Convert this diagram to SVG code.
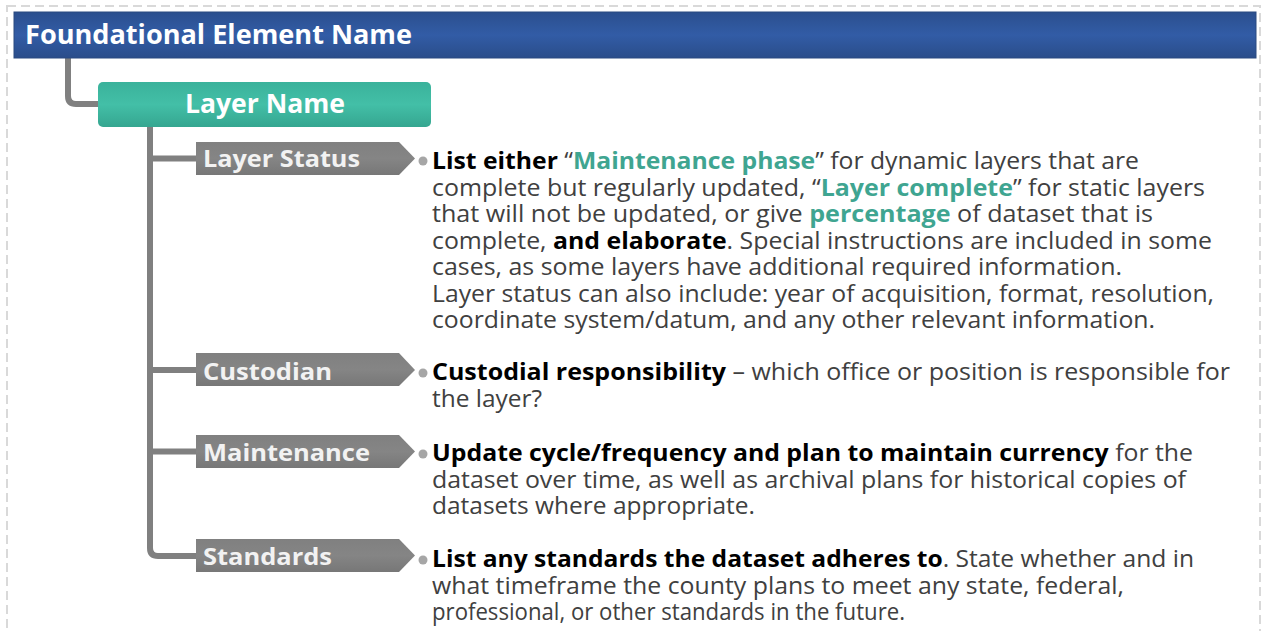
<svg xmlns="http://www.w3.org/2000/svg" width="1262" height="631" viewBox="0 0 1262 631">
<style>
.frame{fill:none;stroke:#d9d9d9;stroke-width:2;stroke-dasharray:9 5}
.conn{fill:none;stroke:#808080;stroke-width:6;stroke-linejoin:round}
.chev{fill:url(#gGray)}
.lbl{font-family:"Open Sans","Noto Sans",sans-serif;font-weight:700;font-size:24px;fill:#f2f2f2}
.hdr{font-family:"Open Sans","Noto Sans",sans-serif;font-weight:700;font-size:26px;fill:#ffffff}
.body{font-family:"Open Sans","Noto Sans",sans-serif;font-size:23px;fill:#404040}
.b{font-weight:700;fill:#000000}
.t{font-weight:700;fill:#3fa591}
.dot{fill:#a6a6a6}
</style>
<defs>
<linearGradient id="gBlue" x1="0" y1="0" x2="0" y2="1">
<stop offset="0" stop-color="#2b4f8e"/>
<stop offset="0.5" stop-color="#325ca6"/>
<stop offset="1" stop-color="#2a4d8a"/>
</linearGradient>
<linearGradient id="gTeal" x1="0" y1="0" x2="0" y2="1">
<stop offset="0" stop-color="#3ab29b"/>
<stop offset="0.5" stop-color="#43bfa7"/>
<stop offset="1" stop-color="#35a690"/>
</linearGradient>
<linearGradient id="gGray" x1="0" y1="0" x2="0" y2="1">
<stop offset="0" stop-color="#808080"/>
<stop offset="0.5" stop-color="#858585"/>
<stop offset="1" stop-color="#777777"/>
</linearGradient>
</defs>
<rect width="1262" height="631" fill="#ffffff"/>
<rect class="frame" x="7" y="6" width="1253" height="640"/>

<g id="connectors">
<path class="conn" d="M68,58 V96 Q68,104 76,104 H100"/>
<path class="conn" d="M150,127 V548 Q150,556 158,556 H198"/>
<path class="conn" d="M150,158.5 H198"/>
<path class="conn" d="M150,370 H198"/>
<path class="conn" d="M150,451.5 H198"/>
</g>

<g id="foundational-element">
<rect x="14" y="12" width="1242" height="46" fill="url(#gBlue)" stroke="#2a4a80" stroke-width="1"/>
<text class="hdr" x="25" y="44" textLength="387" lengthAdjust="spacingAndGlyphs">Foundational Element Name</text>
</g>

<g id="layer-name">
<rect x="98" y="82" width="333" height="45" rx="5" fill="url(#gTeal)"/>
<text class="hdr" x="185" y="113" textLength="160" lengthAdjust="spacingAndGlyphs" fill="#f4fffb">Layer Name</text>
</g>

<g id="layer-status">
<polygon class="chev" points="196,142 399,142 415,158.5 399,175 196,175"/>
<text class="lbl" x="203" y="167" textLength="157" lengthAdjust="spacingAndGlyphs">Layer Status</text>
<circle class="dot" cx="423" cy="161" r="4.5"/>
<text class="body" x="432" y="169" textLength="707" lengthAdjust="spacingAndGlyphs"><tspan class="b">List either</tspan> “<tspan class="t">Maintenance phase</tspan>” for dynamic layers that are</text>
<text class="body" x="432" y="195.5" textLength="773" lengthAdjust="spacingAndGlyphs">complete but regularly updated, “<tspan class="t">Layer complete</tspan>” for static layers</text>
<text class="body" x="432" y="222" textLength="721" lengthAdjust="spacingAndGlyphs">that will not be updated, or give <tspan class="t">percentage</tspan> of dataset that is</text>
<text class="body" x="432" y="248.5" textLength="780" lengthAdjust="spacingAndGlyphs">complete, <tspan class="b">and elaborate</tspan>. Special instructions are included in some</text>
<text class="body" x="432" y="275" textLength="690" lengthAdjust="spacingAndGlyphs">cases, as some layers have additional required information.</text>
<text class="body" x="432" y="301.5" textLength="782" lengthAdjust="spacingAndGlyphs">Layer status can also include: year of acquisition, format, resolution,</text>
<text class="body" x="432" y="328" textLength="723" lengthAdjust="spacingAndGlyphs">coordinate system/datum, and any other relevant information.</text>
</g>

<g id="custodian">
<polygon class="chev" points="196,353 399,353 415,370 399,386 196,386"/>
<text class="lbl" x="203" y="380" textLength="129" lengthAdjust="spacingAndGlyphs">Custodian</text>
<circle class="dot" cx="423" cy="373" r="4.5"/>
<text class="body" x="432" y="380" textLength="798" lengthAdjust="spacingAndGlyphs"><tspan class="b">Custodial responsibility</tspan> – which office or position is responsible for</text>
<text class="body" x="432" y="406.5" textLength="110" lengthAdjust="spacingAndGlyphs">the layer?</text>
</g>

<g id="maintenance">
<polygon class="chev" points="196,435 399,435 415,451.5 399,468 196,468"/>
<text class="lbl" x="203" y="461" textLength="167" lengthAdjust="spacingAndGlyphs">Maintenance</text>
<circle class="dot" cx="423" cy="454" r="4.5"/>
<text class="body" x="432" y="461" textLength="761" lengthAdjust="spacingAndGlyphs"><tspan class="b">Update cycle/frequency and plan to maintain currency</tspan> for the</text>
<text class="body" x="432" y="487.5" textLength="754" lengthAdjust="spacingAndGlyphs">dataset over time, as well as archival plans for historical copies of</text>
<text class="body" x="432" y="514" textLength="323" lengthAdjust="spacingAndGlyphs">datasets where appropriate.</text>
</g>

<g id="standards">
<polygon class="chev" points="196,539 399,539 415,555.5 399,572 196,572"/>
<text class="lbl" x="203" y="565" textLength="129" lengthAdjust="spacingAndGlyphs">Standards</text>
<circle class="dot" cx="423" cy="560" r="4.5"/>
<text class="body" x="432" y="567" textLength="762" lengthAdjust="spacingAndGlyphs"><tspan class="b">List any standards the dataset adheres to</tspan>. State whether and in</text>
<text class="body" x="432" y="593.5" textLength="692" lengthAdjust="spacingAndGlyphs">what timeframe the county plans to meet any state, federal,</text>
<text class="body" x="432" y="620" textLength="473" lengthAdjust="spacingAndGlyphs">professional, or other standards in the future.</text>
</g>
</svg>
